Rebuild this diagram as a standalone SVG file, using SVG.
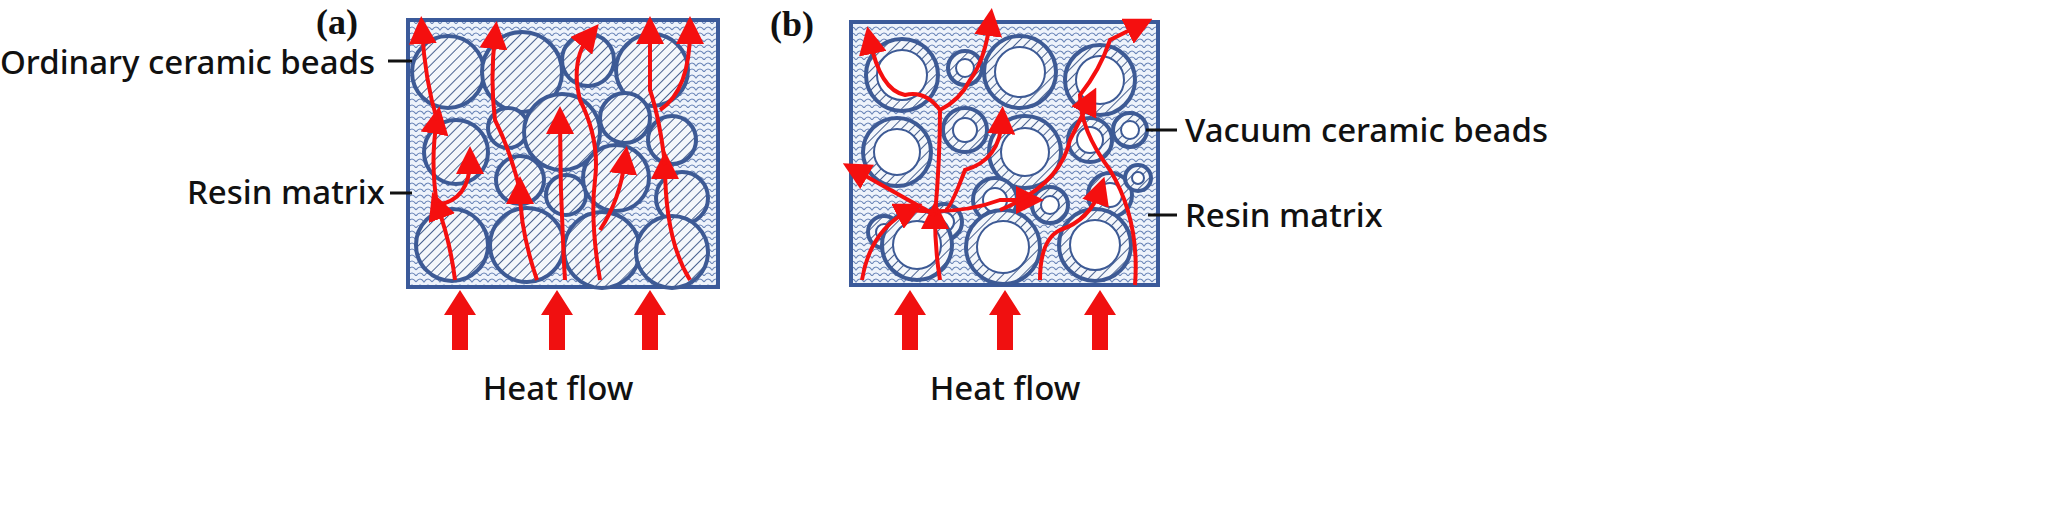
<svg xmlns="http://www.w3.org/2000/svg" width="2048" height="523" viewBox="0 0 2048 523">
<style>
.lbl{font-family:"Noto Sans","Open Sans",sans-serif;font-size:33px;font-weight:500;fill:#111}
.tag{font-family:"Liberation Serif",serif;font-size:36px;font-weight:bold;fill:#111}
.box{fill:url(#scale);stroke:#3b5a9a;stroke-width:4}
.bead{fill:url(#hatch);stroke:#3d5a95;stroke-width:4}
.ring{fill:url(#hatch);stroke:#3d5a95;stroke-width:4}
.hole{fill:#fff;stroke:#3d5a95;stroke-width:2}
.flow{fill:none;stroke:#f50f0f;stroke-width:4;marker-end:url(#ah)}
.lead{stroke:#111;stroke-width:3}
.heat{fill:#f01010}
</style>
<defs>
<pattern id="scale" width="16" height="12" patternUnits="userSpaceOnUse">
<rect width="16" height="12" fill="#eef3fb"/>
<path d="M0 6 Q4 0 8 6 Q12 0 16 6 M-8 12 Q-4 6 0 12 Q4 6 8 12 Q12 6 16 12 Q20 6 24 12" fill="none" stroke="#6a85b8" stroke-width="1.2"/>
</pattern>
<pattern id="hatch" width="7" height="7" patternUnits="userSpaceOnUse" patternTransform="rotate(45)">
<rect width="7" height="7" fill="#f4f7fb"/>
<line x1="0" y1="0" x2="0" y2="7" stroke="#4a6290" stroke-width="2"/>
</pattern>
<marker id="ah" viewBox="0 0 10 10" refX="5" refY="5" markerWidth="7" markerHeight="7" orient="auto">
<path d="M0 0 L10 5 L0 10 Z" fill="#f50f0f"/>
</marker>
</defs>
<g id="panel-a">
<rect class="box" x="408" y="20" width="310" height="267"/>
<g id="beads-a">
<circle class="bead" cx="448" cy="72" r="36"/>
<circle class="bead" cx="522" cy="72" r="40"/>
<circle class="bead" cx="588" cy="60" r="26"/>
<circle class="bead" cx="652" cy="70" r="36"/>
<circle class="bead" cx="456" cy="152" r="32"/>
<circle class="bead" cx="508" cy="128" r="20"/>
<circle class="bead" cx="562" cy="132" r="38"/>
<circle class="bead" cx="625" cy="118" r="25"/>
<circle class="bead" cx="672" cy="140" r="24"/>
<circle class="bead" cx="520" cy="180" r="24"/>
<circle class="bead" cx="566" cy="195" r="20"/>
<circle class="bead" cx="616" cy="178" r="33"/>
<circle class="bead" cx="682" cy="198" r="26"/>
<circle class="bead" cx="452" cy="245" r="36"/>
<circle class="bead" cx="527" cy="245" r="37"/>
<circle class="bead" cx="602" cy="250" r="38"/>
<circle class="bead" cx="672" cy="252" r="36"/>
</g>
<g id="flows-a">
<path class="flow" d="M455 280 Q450 240 437 205"/>
<path class="flow" d="M437 205 Q430 160 437 120"/>
<path class="flow" d="M437 205 Q470 200 470 160"/>
<path class="flow" d="M437 120 Q425 80 422 30"/>
<path class="flow" d="M537 280 Q520 230 520 190"/>
<path class="flow" d="M520 190 Q510 150 495 120 Q490 80 495 35"/>
<path class="flow" d="M565 280 Q560 200 560 120"/>
<path class="flow" d="M600 280 Q590 220 595 180 Q600 140 580 100 Q570 60 590 35"/>
<path class="flow" d="M600 230 Q620 200 625 160"/>
<path class="flow" d="M690 280 Q665 240 665 165"/>
<path class="flow" d="M665 165 Q660 120 650 90 L650 30"/>
<path class="flow" d="M660 110 Q690 90 690 30"/>
</g>
<g id="labels-a">
<text class="tag" x="316" y="34">(a)</text>
<text class="lbl" x="0" y="74">Ordinary ceramic beads</text>
<line class="lead" x1="388" y1="61" x2="412" y2="61"/>
<text class="lbl" x="187" y="204">Resin matrix</text>
<line class="lead" x1="390" y1="193" x2="412" y2="193"/>
</g>
</g>
<g id="panel-b">
<rect class="box" x="851" y="22" width="307" height="263"/>
<g id="beads-b">
<circle class="ring" cx="902" cy="75" r="36"/><circle class="hole" cx="902" cy="75" r="25"/>
<circle class="ring" cx="965" cy="68" r="17"/><circle class="hole" cx="965" cy="68" r="9"/>
<circle class="ring" cx="1020" cy="72" r="36"/><circle class="hole" cx="1020" cy="72" r="25"/>
<circle class="ring" cx="1100" cy="80" r="35"/><circle class="hole" cx="1100" cy="80" r="24"/>
<circle class="ring" cx="897" cy="152" r="34"/><circle class="hole" cx="897" cy="152" r="23"/>
<circle class="ring" cx="965" cy="130" r="22"/><circle class="hole" cx="965" cy="130" r="12"/>
<circle class="ring" cx="1025" cy="152" r="36"/><circle class="hole" cx="1025" cy="152" r="24"/>
<circle class="ring" cx="1090" cy="140" r="22"/><circle class="hole" cx="1090" cy="140" r="13"/>
<circle class="ring" cx="1130" cy="130" r="17"/><circle class="hole" cx="1130" cy="130" r="9"/>
<circle class="ring" cx="884" cy="232" r="16"/><circle class="hole" cx="884" cy="232" r="8"/>
<circle class="ring" cx="944" cy="222" r="18"/><circle class="hole" cx="944" cy="222" r="10"/>
<circle class="ring" cx="995" cy="200" r="22"/><circle class="hole" cx="995" cy="200" r="12"/>
<circle class="ring" cx="1050" cy="205" r="18"/><circle class="hole" cx="1050" cy="205" r="9"/>
<circle class="ring" cx="1110" cy="195" r="22"/><circle class="hole" cx="1110" cy="195" r="12"/>
<circle class="ring" cx="1138" cy="178" r="13"/><circle class="hole" cx="1138" cy="178" r="6"/>
<circle class="ring" cx="917" cy="245" r="35"/><circle class="hole" cx="917" cy="245" r="24"/>
<circle class="ring" cx="1003" cy="247" r="37"/><circle class="hole" cx="1003" cy="247" r="26"/>
<circle class="ring" cx="1095" cy="245" r="36"/><circle class="hole" cx="1095" cy="245" r="25"/>
</g>
<g id="flows-b">
<path class="flow" d="M862 280 Q870 230 910 210"/>
<path class="flow" d="M910 210 Q960 215 1000 200 L1030 200"/>
<path class="flow" d="M940 280 Q935 250 935 215"/>
<path class="flow" d="M935 215 Q940 160 940 110 Q925 90 905 95 Q880 90 870 40"/>
<path class="flow" d="M940 110 Q960 100 970 80 Q985 60 990 22"/>
<path class="flow" d="M945 210 Q950 210 965 170 Q1000 160 1002 120"/>
<path class="flow" d="M935 215 L855 170"/>
<path class="flow" d="M1040 280 Q1040 240 1060 230 Q1090 220 1100 190"/>
<path class="flow" d="M1135 285 Q1140 220 1110 170 Q1080 130 1080 95 Q1100 70 1110 40 L1140 25"/>
<path class="flow" d="M1000 210 Q1060 185 1070 140 L1090 100"/>
</g>
<g id="labels-b">
<text class="tag" x="770" y="36">(b)</text>
<text class="lbl" x="1185" y="142">Vacuum ceramic beads</text>
<line class="lead" x1="1146" y1="130" x2="1177" y2="130"/>
<text class="lbl" x="1185" y="227">Resin matrix</text>
<line class="lead" x1="1148" y1="215" x2="1177" y2="215"/>
</g>
</g>
<g id="heat">
<path class="heat" d="M452 350 V315 H444 L460 290 L476 315 H468 V350 Z"/>
<path class="heat" d="M549 350 V315 H541 L557 290 L573 315 H565 V350 Z"/>
<path class="heat" d="M642 350 V315 H634 L650 290 L666 315 H658 V350 Z"/>
<path class="heat" d="M902 350 V315 H894 L910 290 L926 315 H918 V350 Z"/>
<path class="heat" d="M997 350 V315 H989 L1005 290 L1021 315 H1013 V350 Z"/>
<path class="heat" d="M1092 350 V315 H1084 L1100 290 L1116 315 H1108 V350 Z"/>
<text class="lbl" x="558" y="400" text-anchor="middle">Heat flow</text>
<text class="lbl" x="1005" y="400" text-anchor="middle">Heat flow</text>
</g>
</svg>
